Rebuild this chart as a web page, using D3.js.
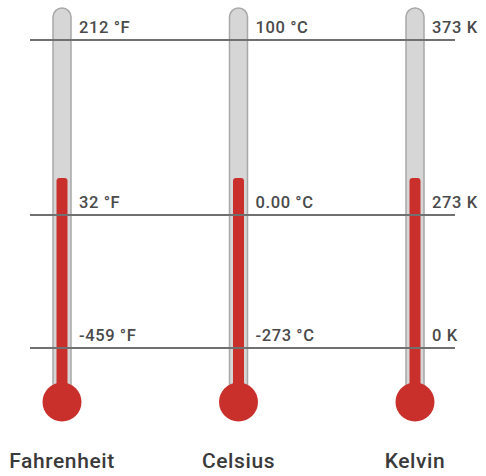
<!DOCTYPE html>
<html>
<head>
<meta charset="utf-8">
<script src="https://cdn.jsdelivr.net/npm/d3@7"></script>
<style>
  body { margin: 0; background: #fff; }
  svg { display: block; font-family: Roboto, "Liberation Sans", sans-serif; }
</style>
</head>
<body>
<svg width="486" height="476"></svg>
<script>
// temperature scales shown as thermometers
const scaleNames = ['Fahrenheit', 'Celsius', 'Kelvin'];
// reference points in °F (boiling, freezing, absolute zero)
const refValues = [212, 32, -459];
const boilingLabels = ['212 °F', '100 °C', '373 K'];
const freezingLabels = ['32 °F', '0.00 °C', '273 K'];
const zeroLabels = ['-459 °F', '-273 °C', '0 K'];
// mercury level, same temperature in every thermometer (°F)
const mercury = 70;

const svg = d3.select('svg');

const x = d3.scalePoint().domain(scaleNames).range([62, 415]);
// schematic, piecewise scale for the reference points
const y = d3.scaleLinear().domain([-459, 32, 212]).range([348, 215, 40]);

const red = '#c9302c';
const tubeW = 18, redW = 11, bulbR = 19.5;
const tubeTop = y(212) - 32;
const bulbY = y(-459) + 54;

const thermo = svg.selectAll('g.thermo')
  .data(scaleNames)
  .enter()
  .append('g')
    .attr('class', 'thermo')
    .attr('transform', d => `translate(${x(d)},0)`);

// glass tube
thermo.append('rect')
  .attr('x', -tubeW / 2)
  .attr('y', tubeTop)
  .attr('width', tubeW)
  .attr('height', bulbY - tubeTop)
  .attr('rx', tubeW / 2)
  .style('fill', '#d6d6d6')
  .style('stroke', '#a8a8a8')
  .style('stroke-width', 1.5);

// mercury column
thermo.append('rect')
  .attr('x', -redW / 2)
  .attr('y', y(mercury))
  .attr('width', redW)
  .attr('height', bulbY - y(mercury))
  .attr('rx', 3)
  .style('fill', red);

thermo.append('circle')
  .attr('cy', bulbY)
  .attr('r', bulbR)
  .style('fill', red);

// reference lines
svg.selectAll('line.ref')
  .data(refValues)
  .enter()
  .append('line')
    .attr('class', 'ref')
    .attr('x1', x(scaleNames[0]) - 32)
    .attr('x2', x(scaleNames[2]) + 40)
    .attr('y1', d => y(d))
    .attr('y2', d => y(d))
    .style('stroke', '#707070')
    .style('stroke-width', 2);

// value labels
const labelRows = [boilingLabels, freezingLabels, zeroLabels];
labelRows.forEach((row, i) => {
  svg.selectAll('text.row' + i)
    .data(row)
    .enter()
    .append('text')
      .attr('class', 'row' + i)
      .attr('x', (d, j) => x(scaleNames[j]) + 17)
      .attr('y', y(refValues[i]) - 7)
      .style('font-size', '16.5px')
      .style('font-weight', 500)
      .style('letter-spacing', '0.6px')
      .style('fill', '#4a4a4a')
      .text(d => d);
});

// scale names
svg.selectAll('text.name')
  .data(scaleNames)
  .enter()
  .append('text')
    .attr('class', 'name')
    .attr('x', d => x(d))
    .attr('y', 468)
    .attr('text-anchor', 'middle')
    .style('font-size', '21px')
    .style('font-weight', 500)
    .style('letter-spacing', '0.6px')
    .style('fill', '#3a3a3a')
    .text(d => d);
</script>
</body>
</html>
